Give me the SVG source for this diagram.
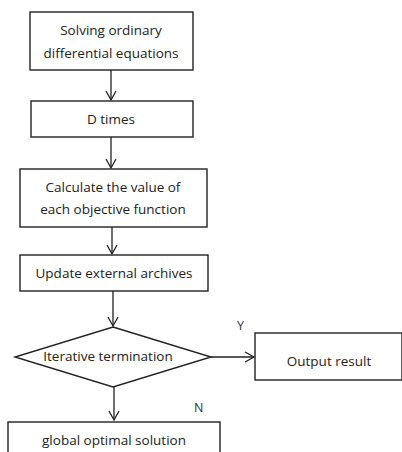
<svg xmlns="http://www.w3.org/2000/svg" width="402" height="452" viewBox="0 0 402 452">
<defs>
<marker id="ah" markerWidth="12" markerHeight="12" refX="10" refY="6" orient="auto" markerUnits="userSpaceOnUse">
<polyline points="1,1 10,6 1,11" fill="none" stroke="#222" stroke-width="1.3"/>
</marker>
</defs>
<style>
.box{fill:#fff;stroke:#222;stroke-width:1.4}
.t{font-family:"Open Sans","Liberation Sans",Arial,sans-serif;font-size:13.5px;fill:#222;text-anchor:middle}
.lbl{font-family:"Open Sans","Liberation Sans",Arial,sans-serif;font-size:12.5px;fill:#333}
.c{stroke:#222;stroke-width:1.3;fill:none;marker-end:url(#ah)}
</style>
<rect width="402" height="452" fill="#fff"/>
<g id="connectors">
<line class="c" x1="111" y1="70" x2="111" y2="100"/>
<line class="c" x1="111" y1="137" x2="111" y2="168"/>
<line class="c" x1="112" y1="227" x2="112" y2="254"/>
<line class="c" x1="113" y1="291" x2="113" y2="326"/>
<line class="c" x1="211" y1="357" x2="254" y2="357"/>
<line class="c" x1="114" y1="387" x2="114" y2="420"/>
</g>
<g id="n1">
<rect class="box" x="30" y="12" width="163" height="58"/>
<text class="t" x="111" y="35">Solving ordinary</text>
<text class="t" x="111" y="58">differential equations</text>
</g>
<g id="n2">
<rect class="box" x="31" y="101" width="162" height="36"/>
<text class="t" x="111" y="124">D times</text>
</g>
<g id="n3">
<rect class="box" x="20" y="169" width="187" height="58"/>
<text class="t" x="113" y="192">Calculate the value of</text>
<text class="t" x="113" y="214">each objective function</text>
</g>
<g id="n4">
<rect class="box" x="20" y="255" width="188" height="36"/>
<text class="t" x="114" y="278">Update external archives</text>
</g>
<g id="n5">
<polygon class="box" points="113,327 211,357 113,387 15,357"/>
<text class="t" x="108" y="361">Iterative termination</text>
</g>
<g id="n6">
<rect class="box" x="255" y="333" width="147" height="47"/>
<text class="t" x="329" y="366">Output result</text>
</g>
<g id="n7">
<rect class="box" x="8" y="422" width="212" height="40"/>
<text class="t" x="114" y="445">global optimal solution</text>
</g>
<text class="lbl" x="237" y="330">Y</text>
<text class="lbl" x="194" y="412">N</text>
</svg>
